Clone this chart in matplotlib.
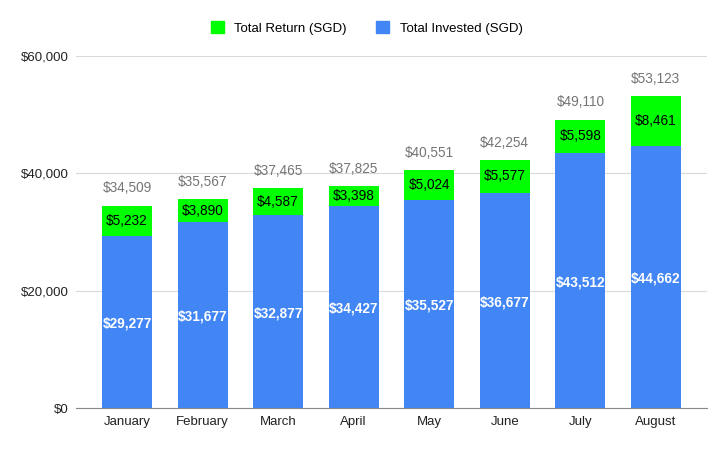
import matplotlib
matplotlib.use('Agg')
import matplotlib.pyplot as plt
from matplotlib.patches import Patch

months = ['January', 'February', 'March', 'April', 'May', 'June', 'July', 'August']
invested = [29277, 31677, 32877, 34427, 35527, 36677, 43512, 44662]
returns = [5232, 3890, 4587, 3398, 5024, 5577, 5598, 8461]
totals = [34509, 35567, 37465, 37825, 40551, 42254, 49110, 53123]
yticks = [0, 20000, 40000, 60000]

plt.rcParams['font.family'] = ['Liberation Sans', 'DejaVu Sans']

blue = '#4285F4'
green = '#00FF00'

fig = plt.figure(figsize=(7.26, 4.49), dpi=100)
ax = fig.add_axes([0.1047, 0.0913, 0.869, 0.784])

x = range(len(months))
ax.bar(x, invested, width=0.66, color=blue, zorder=2)
ax.bar(x, returns, width=0.66, bottom=invested, color=green, zorder=2)

for i in x:
    ax.text(i, invested[i] / 2 - 300, '${:,}'.format(invested[i]), ha='center', va='center',
            color='white', fontsize=9.8, fontweight='bold', zorder=3)
    ax.text(i, invested[i] + returns[i] / 2, '${:,}'.format(returns[i]), ha='center', va='center',
            color='black', fontsize=9.8, zorder=3)
    ax.text(i, invested[i] + returns[i] + 1800, '${:,}'.format(totals[i]), ha='center', va='bottom',
            color='#757575', fontsize=9.8, zorder=3)

ax.set_xlim(-0.675, len(months) - 1 + 0.675)
ax.set_ylim(0, 60000)
ax.set_yticks(yticks)
ax.set_yticklabels(['${:,}'.format(v) for v in yticks])
ax.set_xticks(list(x))
ax.set_xticklabels(months)
ax.tick_params(axis='both', length=0, labelsize=9.5, colors='#222222')
ax.tick_params(axis='y', pad=5)
ax.tick_params(axis='x', pad=6)
ax.grid(axis='y', color='#d9d9d9', linewidth=0.8, zorder=0)
for s in ['top', 'right', 'left']:
    ax.spines[s].set_visible(False)
ax.spines['bottom'].set_color('#888888')
ax.spines['bottom'].set_zorder(4)

handles = [Patch(color=green, label='Total Return (SGD)'),
           Patch(color=blue, label='Total Invested (SGD)')]
fig.legend(handles=handles, loc='center', bbox_to_anchor=(0.505, 0.938), ncol=2, frameon=False,
           fontsize=9.5, handlelength=1.0, handleheight=1.0, columnspacing=2.2, handletextpad=0.8)

plt.savefig('out.png', dpi=100)
